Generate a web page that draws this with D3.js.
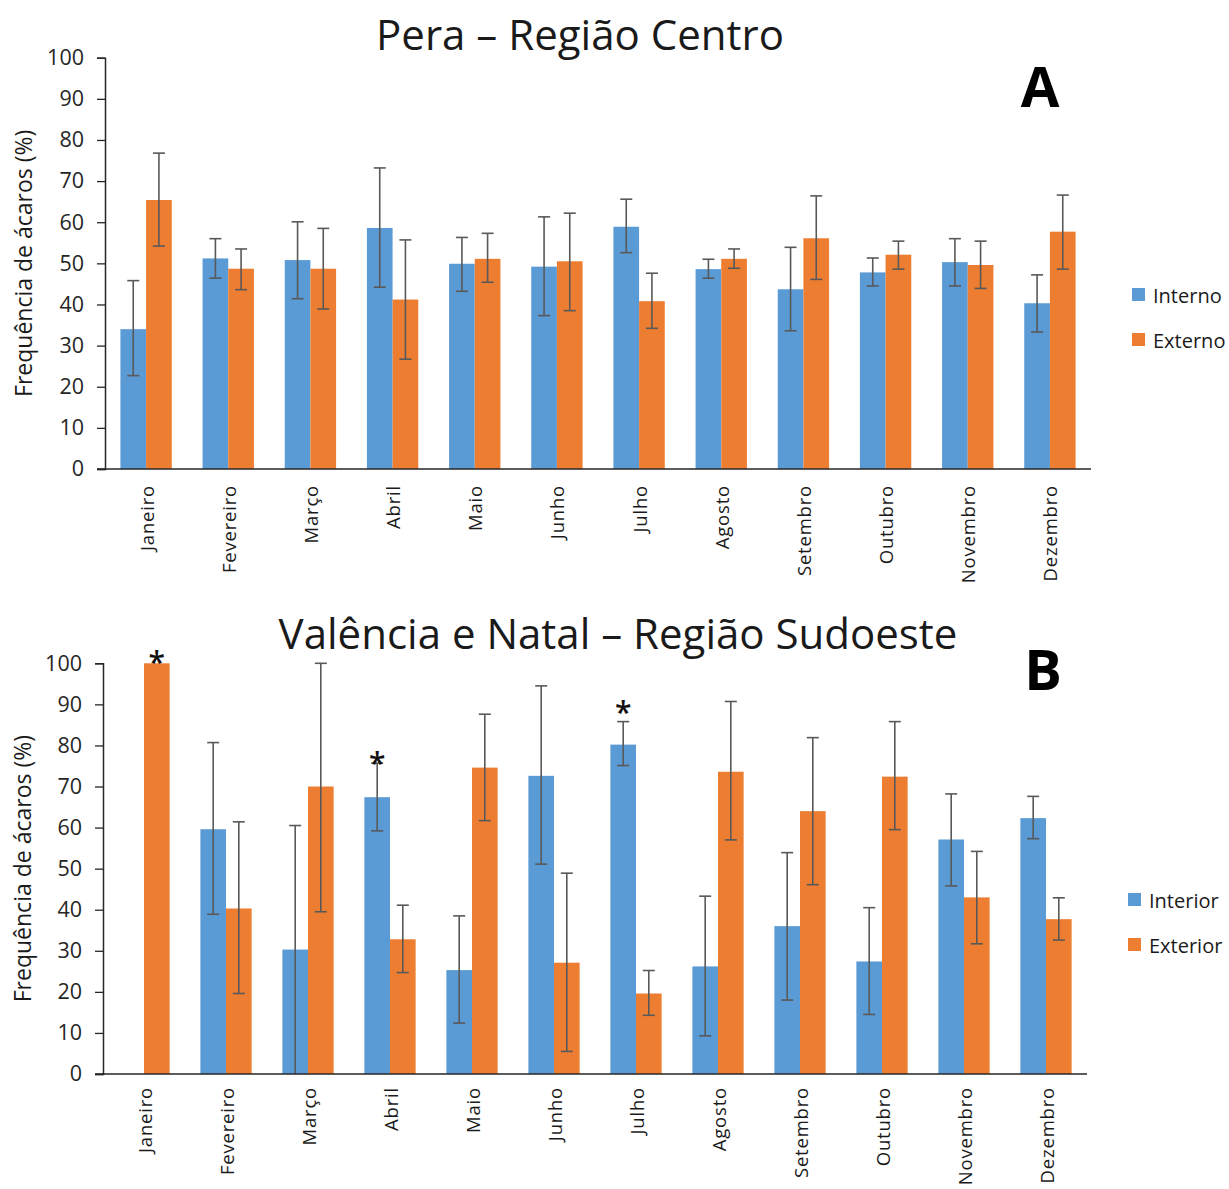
<!DOCTYPE html>
<html><head><meta charset="utf-8">
<script src="https://cdn.jsdelivr.net/npm/d3@7"></script>
<style>body{margin:0;background:#fff}svg{display:block}</style>
</head><body>
<script>
const months = ["Janeiro","Fevereiro","Março","Abril","Maio","Junho","Julho","Agosto","Setembro","Outubro","Novembro","Dezembro"];
const yTicks = [0,10,20,30,40,50,60,70,80,90,100];

// Panel A – Pera, Região Centro
const interno   = [34.0, 51.2, 50.8, 58.6, 49.9, 49.2, 58.9, 48.6, 43.7, 47.8, 50.3, 40.3];
const internoLo = [22.7, 46.4, 41.4, 44.2, 43.2, 37.3, 52.6, 46.4, 33.6, 44.5, 44.5, 33.3];
const internoHi = [45.8, 56.0, 60.1, 73.2, 56.3, 61.3, 65.6, 51.0, 53.9, 51.3, 56.0, 47.2];
const externo   = [65.4, 48.7, 48.7, 41.2, 51.1, 50.5, 40.8, 51.1, 56.1, 52.1, 49.6, 57.7];
const externoLo = [54.2, 43.6, 38.9, 26.7, 45.4, 38.5, 34.2, 48.8, 46.1, 48.6, 43.9, 48.6];
const externoHi = [76.8, 53.5, 58.5, 55.7, 57.3, 62.2, 47.6, 53.5, 66.4, 55.4, 55.4, 66.6];

// Panel B – Valência e Natal, Região Sudoeste
const interior   = [0, 59.6, 30.3, 67.4, 25.3, 72.6, 80.2, 26.2, 36.0, 27.4, 57.1, 62.3];
const interiorLo = [null, 38.9, 0, 59.2, 12.4, 51.1, 75.1, 9.3, 18.0, 14.5, 45.8, 57.3];
const interiorHi = [null, 80.7, 60.5, 75.7, 38.5, 94.5, 85.8, 43.3, 53.9, 40.5, 68.2, 67.6];
const exterior   = [100, 40.3, 70.0, 32.8, 74.6, 27.1, 19.6, 73.6, 64.0, 72.4, 43.0, 37.7];
const exteriorLo = [null, 19.6, 39.5, 24.7, 61.7, 5.5, 14.3, 57.0, 46.1, 59.5, 31.7, 32.6];
const exteriorHi = [null, 61.4, 100, 41.1, 87.6, 48.9, 25.2, 90.7, 81.9, 85.8, 54.2, 42.9];
// significance marks: month, series index, level (%)
const marksB = [["Janeiro",1,101.7],["Abril",0,77.1],["Julho",0,89.6]];

const W = 1229, H = 1189;
const svg = d3.select("body").append("svg").attr("width", W).attr("height", H)
  .style("font-family", "'Open Sans', sans-serif");

const colors = ["#5B9BD5", "#ED7D31"];

function panel(cfg) {
  const g = svg.append("g");
  const x = d3.scaleBand().domain(months).range([cfg.x0, cfg.x1]).paddingInner(0.375).paddingOuter(0.1875);
  const xs = d3.scaleBand().domain([0,1]).range([0, x.bandwidth()]);
  const y = d3.scaleLinear().domain([0,100]).range([cfg.yb, cfg.yt]);

  // title
  g.append("text").attr("x", cfg.titleX).attr("y", cfg.titleY).attr("text-anchor","middle")
    .attr("font-size", 42).attr("fill","#1a1a1a").text(cfg.title);
  g.append("text").attr("x", cfg.letterX).attr("y", cfg.letterY).attr("text-anchor","middle")
    .attr("font-size", 56).attr("font-weight", 700).attr("fill","#000").text(cfg.letter);

  // bars
  const series = cfg.series;
  series.forEach((s, si) => {
    g.append("g").selectAll("rect").data(months).join("rect")
      .attr("x", d => x(d) + xs(si))
      .attr("width", xs.bandwidth())
      .attr("y", (d,i) => y(s.v[i]))
      .attr("height", (d,i) => y(0) - y(s.v[i]))
      .attr("fill", colors[si]);
  });
  // error bars
  series.forEach((s, si) => {
    const eg = g.append("g").attr("stroke", "#595959").attr("stroke-width", 1.6).attr("fill","none");
    months.forEach((m, i) => {
      if (s.lo[i] == null) return;
      const cx = x(m) + xs(si) + xs.bandwidth()/2;
      eg.append("line").attr("x1", cx).attr("x2", cx).attr("y1", y(s.lo[i])).attr("y2", y(s.hi[i]));
      eg.append("line").attr("x1", cx-6).attr("x2", cx+6).attr("y1", y(s.hi[i])).attr("y2", y(s.hi[i]));
      if (s.lo[i] > 0) eg.append("line").attr("x1", cx-6).attr("x2", cx+6).attr("y1", y(s.lo[i])).attr("y2", y(s.lo[i]));
    });
  });

  // y axis
  const ya = g.append("g").attr("transform", `translate(${cfg.x0},0)`)
    .call(d3.axisLeft(y).tickValues(yTicks).tickSize(8).tickPadding(13));
  ya.select(".domain").attr("stroke", "#262626").attr("stroke-width", 1.5);
  ya.selectAll(".tick line").attr("stroke", "#262626").attr("stroke-width", 1.3);
  ya.selectAll(".tick text").attr("font-size", 21.5).attr("fill", "#262626")
    .attr("font-family", "'Open Sans', sans-serif");
  // x axis
  const xa = g.append("g").attr("transform", `translate(0,${cfg.yb})`)
    .call(d3.axisBottom(x).tickSize(0).tickPadding(0));
  xa.select(".domain").attr("stroke", "#262626").attr("stroke-width", 1.5)
    .attr("d", `M${cfg.x0-8},0H${cfg.x1}`);
  xa.selectAll(".tick text")
    .attr("font-size", 18.5).attr("fill", "#1a1a1a").attr("letter-spacing", "0.8px")
    .attr("font-family", "'Open Sans', sans-serif")
    .attr("text-anchor", "end").attr("dominant-baseline", "central")
    .attr("transform", `translate(0,${cfg.labOff}) rotate(-90)`).attr("x", 0).attr("y", 0).attr("dy", null);

  // y label
  g.append("text").attr("transform", `translate(${cfg.ylabX},${(cfg.yt+cfg.yb)/2}) rotate(-90)`)
    .attr("text-anchor","middle").attr("dominant-baseline","central")
    .attr("font-size", 23).attr("fill","#1a1a1a").text("Frequência de ácaros (%)");

  // legend
  series.forEach((s, si) => {
    const ly = cfg.legY + si*45;
    g.append("rect").attr("x", cfg.legX).attr("y", ly-7).attr("width", 13).attr("height", 13).attr("fill", colors[si]);
    g.append("text").attr("x", cfg.legX+21).attr("y", ly).attr("dominant-baseline","central")
      .attr("font-size", 20).attr("fill","#1a1a1a").text(s.name);
  });

  // marks
  (cfg.marks || []).forEach(([m, si, lvl]) => {
    const cx = x(m) + xs(si) + xs.bandwidth()/2;
    g.append("text").attr("x", cx).attr("y", y(lvl) + 17).attr("text-anchor","middle")
      .attr("font-size", 30).attr("font-weight", 600).attr("fill","#111").text("*");
  });
}

panel({
  x0: 105, x1: 1091, yt: 57.7, yb: 469, labOff: 16,
  title: "Pera – Região Centro", titleX: 580, titleY: 50,
  letter: "A", letterX: 1040, letterY: 107,
  ylabX: 23, legX: 1132, legY: 295,
  series: [
    {name: "Interno", v: interno, lo: internoLo, hi: internoHi},
    {name: "Externo", v: externo, lo: externoLo, hi: externoHi}
  ]
});
panel({
  x0: 103, x1: 1087, yt: 663.3, yb: 1074, labOff: 13,
  title: "Valência e Natal – Região Sudoeste", titleX: 618, titleY: 649,
  letter: "B", letterX: 1043, letterY: 690,
  ylabX: 22, legX: 1128, legY: 900,
  series: [
    {name: "Interior", v: interior, lo: interiorLo, hi: interiorHi},
    {name: "Exterior", v: exterior, lo: exteriorLo, hi: exteriorHi}
  ],
  marks: marksB
});
</script>
</body></html>
